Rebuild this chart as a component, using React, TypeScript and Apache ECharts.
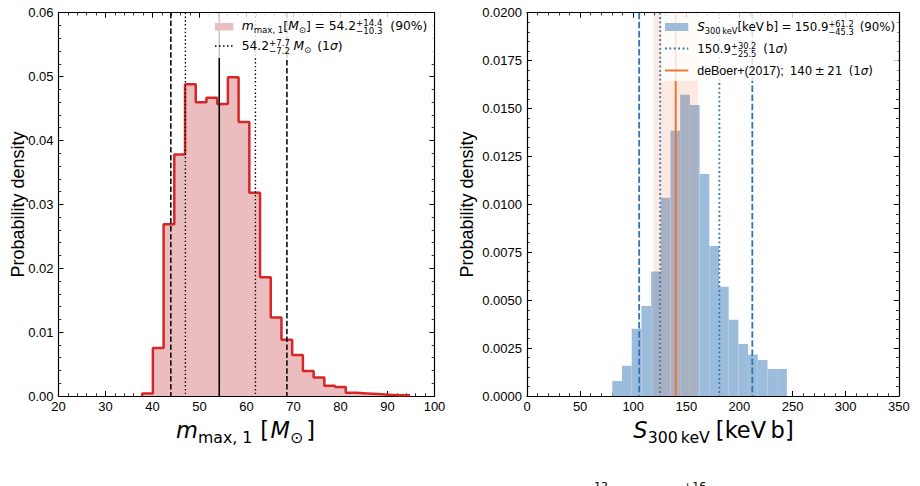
import React, { useEffect, useRef } from 'react';
import * as echarts from 'echarts';

// ---- m_max,1 posterior histogram (density per bin) ----
const mmaxBinStart = 37.8;
const mmaxBinWidth = 2.28;
const mmaxDensity = [
  0.0004, 0.0075, 0.0269, 0.0378, 0.0488, 0.046, 0.0467, 0.0457, 0.0499, 0.0429,
  0.0318, 0.0186, 0.0123, 0.0088, 0.0064, 0.0039, 0.0029, 0.0016, 0.0014, 0.0005,
  0.0004, 0.0003, 0.0002, 0.0001, 0.0001,
];
const mmaxMedian = 54.2;
const mmax90 = [10.3, 14.4]; // minus, plus
const mmax1s = [7.2, 7.7];

// ---- S_300keV posterior histogram ----
const sBinStart = 80.3;
const sBinWidth = 9.13;
const sDensity = [
  0.00078, 0.00158, 0.00351, 0.0047, 0.00649, 0.01035, 0.01384, 0.01572, 0.01518,
  0.01158, 0.00783, 0.0057, 0.00398, 0.00271, 0.00216, 0.00188, 0.00141, 0.00141,
];
const sMedian = 150.9;
const s90 = [45.3, 61.2];
const s1s = [25.5, 30.2];
const deBoerValue = 140;
const deBoerSigma = 21;

// ---- axis ranges ----
const mmaxAxis = { min: 20, max: 100, interval: 10 };
const densAxisL = { min: 0, max: 0.06, interval: 0.01 };
const sAxis = { min: 0, max: 350, interval: 50 };
const densAxisR = { min: 0, max: 0.02, interval: 0.0025 };

const MATH = "'DejaVu Sans'";
const TEXT = "'Liberation Sans', Arial, sans-serif";

const PINK = '#ebbdbf';
const RED = '#d62728';
const BLUE_FILL = '#9cbcdb';
const BLUE_LINE = '#2f74b3';
const ORANGE = '#e9753a';

let measureCtx: CanvasRenderingContext2D | null = null;
function measure(t: string, f: string) {
  if (!measureCtx) measureCtx = document.createElement('canvas').getContext('2d');
  measureCtx!.font = f;
  return measureCtx!.measureText(t).width;
}
function fontOf(fs: number, it?: boolean, fam?: string) {
  return `${it ? 'italic ' : ''}${fs}px ${fam ?? MATH}`;
}

type Piece = {
  t?: string;
  sup?: string;
  sub?: string;
  fs: number;
  it?: boolean;
  fam?: string;
  dy?: number;
  pl?: number;
  pr?: number;
  up?: number;
  down?: number;
};

function textEl(t: string, x: number, baseline: number, fs: number, f: string, z = 30) {
  return {
    type: 'text',
    x,
    y: baseline - 0.346 * fs,
    z,
    silent: true,
    style: { text: t, font: f, fill: '#000', textAlign: 'left', textVerticalAlign: 'middle' },
  };
}

function mathLine(pieces: Piece[], x: number, baseline: number, align: 'left' | 'center') {
  const widths = pieces.map((p) => {
    const f = fontOf(p.fs, p.it, p.fam);
    const w = p.t !== undefined ? measure(p.t, f) : Math.max(measure(p.sup!, f), measure(p.sub!, f));
    return w + (p.pl ?? 0) + (p.pr ?? 0);
  });
  const total = widths.reduce((a, b) => a + b, 0);
  let cx = align === 'center' ? x - total / 2 : x;
  const out: any[] = [];
  pieces.forEach((p, i) => {
    const f = fontOf(p.fs, p.it, p.fam);
    const px = cx + (p.pl ?? 0);
    if (p.t !== undefined) {
      out.push(textEl(p.t, px, baseline + (p.dy ?? 0), p.fs, f));
    } else {
      out.push(textEl(p.sup!, px, baseline - (p.up ?? 0), p.fs, f));
      out.push(textEl(p.sub!, px, baseline + (p.down ?? 0), p.fs, f));
    }
    cx += widths[i];
  });
  return out;
}

const fmt1 = (v: number) => v.toFixed(1);

function buildOption() {
  const L = 12.3; // left legend font size
  const Ls = L * 0.7;
  const R = 11.8; // right legend font size
  const Rs = R * 0.7;
  const T = 22.5; // axis title size
  const Ts = T * 0.7;

  const stack = (sup: string, sub: string, fs: number): Piece => ({ sup, sub, fs, up: 4.6, down: 3.4 });

  const legendLeftRow1: Piece[] = [
    { t: 'm', fs: L, it: true },
    { t: 'max, 1', fs: Ls, dy: 2.4 },
    { t: '[', fs: L },
    { t: 'M', fs: L, it: true },
    { t: '\u2299', fs: Ls, dy: 2.4 },
    { t: ']', fs: L },
    { t: '=', fs: L, pl: 3.8, pr: 3.8 },
    { t: fmt1(mmaxMedian), fs: L },
    stack('+' + fmt1(mmax90[1]), '\u2212' + fmt1(mmax90[0]), Ls),
    { t: '(90%)', fs: L, pl: 8 },
  ];
  const legendLeftRow2: Piece[] = [
    { t: fmt1(mmaxMedian), fs: L },
    stack('+' + fmt1(mmax1s[1]), '\u2212' + fmt1(mmax1s[0]), Ls),
    { t: 'M', fs: L, it: true, pl: 3.5 },
    { t: '\u2299', fs: Ls, dy: 2.4 },
    { t: '(1', fs: L, pl: 6 },
    { t: '\u03c3', fs: L, it: true },
    { t: ')', fs: L },
  ];
  const legendRightRow1: Piece[] = [
    { t: 'S', fs: R, it: true },
    { t: '300\u2009keV', fs: Rs, dy: 2.4 },
    { t: '[keV\u2009b]', fs: R },
    { t: '=', fs: R, pl: 3.3, pr: 3.3 },
    { t: fmt1(sMedian), fs: R },
    stack('+' + fmt1(s90[1]), '\u2212' + fmt1(s90[0]), Rs),
    { t: '(90%)', fs: R, pl: 6 },
  ];
  const legendRightRow2: Piece[] = [
    { t: fmt1(sMedian), fs: R },
    stack('+' + fmt1(s1s[1]), '\u2212' + fmt1(s1s[0]), Rs),
    { t: '(1', fs: R, pl: 7 },
    { t: '\u03c3', fs: R, it: true },
    { t: ')', fs: R },
  ];
  const legendRightRow3: Piece[] = [
    { t: 'deBoer+(2017);', fs: 12.4, fam: TEXT },
    { t: String(deBoerValue), fs: R, pl: 6 },
    { t: '\u00b1', fs: R, pl: 2.5, pr: 2.5 },
    { t: String(deBoerSigma), fs: R },
    { t: '(1', fs: R, pl: 6.5 },
    { t: '\u03c3', fs: R, it: true },
    { t: ')', fs: R },
  ];

  const titleLeft: Piece[] = [
    { t: 'm', fs: T, it: true },
    { t: 'max, 1', fs: Ts, dy: 4.5 },
    { t: '[', fs: T, pl: 8 },
    { t: 'M', fs: T, it: true, pl: 1.5 },
    { t: '\u2299', fs: Ts, dy: 4.5 },
    { t: ']', fs: T, pl: 3 },
  ];
  const titleRight: Piece[] = [
    { t: 'S', fs: T, it: true },
    { t: '300\u2009keV', fs: Ts, dy: 4.5 },
    { t: '[keV\u2009b]', fs: T, pl: 6 },
  ];

  const graphic: any[] = [
    // legend frames
    { type: 'rect', z: 20, silent: true, shape: { x: 205, y: 13, width: 229, height: 45 }, style: { fill: 'rgba(255,255,255,0.8)' } },
    { type: 'rect', z: 20, silent: true, shape: { x: 661.5, y: 13, width: 236.5, height: 68 }, style: { fill: 'rgba(255,255,255,0.8)' } },
    // legend handles (left)
    { type: 'rect', z: 25, silent: true, shape: { x: 215, y: 23, width: 18.3, height: 7.5 }, style: { fill: PINK } },
    { type: 'line', z: 25, silent: true, shape: { x1: 215, y1: 46, x2: 233.3, y2: 46 }, style: { stroke: '#000', lineWidth: 1.5, lineDash: [1.5, 2.5] } },
    // legend handles (right)
    { type: 'rect', z: 25, silent: true, shape: { x: 665, y: 23, width: 23.3, height: 8 }, style: { fill: BLUE_FILL } },
    { type: 'line', z: 25, silent: true, shape: { x1: 665, y1: 48.5, x2: 688.3, y2: 48.5 }, style: { stroke: BLUE_LINE, lineWidth: 1.8, lineDash: [1.8, 2.6] } },
    { type: 'line', z: 25, silent: true, shape: { x1: 665, y1: 70.5, x2: 688.3, y2: 70.5 }, style: { stroke: ORANGE, lineWidth: 2 } },
    ...mathLine(legendLeftRow1, 241.7, 30.5, 'left'),
    ...mathLine(legendLeftRow2, 241.7, 50.5, 'left'),
    ...mathLine(legendRightRow1, 697.3, 31.5, 'left'),
    ...mathLine(legendRightRow2, 697.3, 53, 'left'),
    ...mathLine(legendRightRow3, 697.3, 75, 'left'),
    // axis titles
    ...mathLine(titleLeft, 245.5, 438, 'center'),
    ...mathLine(titleRight, 713.5, 438, 'center'),
    {
      type: 'text', x: 18, y: 204.5, rotation: Math.PI / 2, z: 30, silent: true,
      style: { text: 'Probability density', font: `18px ${TEXT}`, fill: '#000', textAlign: 'center', textVerticalAlign: 'middle' },
    },
    {
      type: 'text', x: 467, y: 204.5, rotation: Math.PI / 2, z: 30, silent: true,
      style: { text: 'Probability density', font: `18px ${TEXT}`, fill: '#000', textAlign: 'center', textVerticalAlign: 'middle' },
    },
    // superscripts of the next row's labels, cut by the bottom edge
    { type: 'text', x: 594, y: 480.5, z: 30, silent: true, style: { text: '12', font: `11px ${MATH}`, fill: '#000', textAlign: 'left', textVerticalAlign: 'top' } },
    { type: 'text', x: 683, y: 480.5, z: 30, silent: true, style: { text: '+16', font: `11px ${MATH}`, fill: '#000', textAlign: 'left', textVerticalAlign: 'top' } },
  ];

  const axisBase = (r: { min: number; max: number; interval: number }, gridIndex: number, position: string, showLabel: boolean, digits?: number) => ({
    type: 'value',
    gridIndex,
    position,
    min: r.min,
    max: r.max,
    interval: r.interval,
    axisLine: { show: true, onZero: false, lineStyle: { color: '#000', width: 1.2 } },
    axisTick: { show: true, inside: true, length: 5, lineStyle: { color: '#000', width: 1 } },
    minorTick: { show: true, splitNumber: 5, length: 2.8, lineStyle: { color: '#000', width: 0.8 } },
    splitLine: { show: false },
    minorSplitLine: { show: false },
    axisLabel: {
      show: showLabel,
      color: '#000',
      fontSize: 13,
      fontFamily: TEXT,
      margin: position === 'left' ? 5 : 4,
      formatter: digits !== undefined ? (v: number) => v.toFixed(digits) : (v: number) => String(v),
    },
  });

  // step outline points for the m_max,1 histogram
  const mmaxStep: number[][] = [[mmaxBinStart, 0]];
  mmaxDensity.forEach((h, i) => mmaxStep.push([mmaxBinStart + i * mmaxBinWidth, h]));
  mmaxStep.push([mmaxBinStart + mmaxDensity.length * mmaxBinWidth, 0]);

  const mmaxLines = [
    { x: mmaxMedian - mmax90[0], kind: 'dashed' },
    { x: mmaxMedian - mmax1s[0], kind: 'dotted' },
    { x: mmaxMedian, kind: 'solid' },
    { x: mmaxMedian + mmax1s[1], kind: 'dotted' },
    { x: mmaxMedian + mmax90[1], kind: 'dashed' },
  ];
  const sLines = [
    { x: sMedian - s90[0], kind: 'dashed' },
    { x: sMedian - s1s[0], kind: 'dotted' },
    { x: sMedian + s1s[1], kind: 'dotted' },
    { x: sMedian + s90[1], kind: 'dashed' },
    { x: deBoerValue, kind: 'orange' },
  ];

  const vlineStyle: Record<string, any> = {
    dashed: { stroke: '#000', lineWidth: 1.5, lineDash: [5.5, 2.4] },
    dotted: { stroke: '#000', lineWidth: 1.4, lineDash: [1.4, 2.4] },
    solid: { stroke: '#000', lineWidth: 1.6 },
  };
  const vlineStyleR: Record<string, any> = {
    dashed: { stroke: BLUE_LINE, lineWidth: 1.8, lineDash: [6.5, 2.6] },
    dotted: { stroke: BLUE_LINE, lineWidth: 1.8, lineDash: [1.8, 2.6] },
    orange: { stroke: ORANGE, lineWidth: 2 },
  };

  const vlineSeries = (lines: { x: number; kind: string }[], xi: number, yi: number, yMax: number, styles: Record<string, any>) => ({
    type: 'custom',
    xAxisIndex: xi,
    yAxisIndex: yi,
    z: 5,
    silent: true,
    data: lines.map((l) => [l.x, 0]),
    encode: { x: 0, y: 1 },
    renderItem: (params: any, api: any) => {
      const x = api.value(0);
      const top = api.coord([x, yMax]);
      const bot = api.coord([x, 0]);
      return {
        type: 'line',
        shape: { x1: top[0], y1: top[1], x2: bot[0], y2: bot[1] },
        style: { ...styles[lines[params.dataIndex].kind], fill: null },
      };
    },
  });

  return {
    animation: false,
    backgroundColor: '#fff',
    grid: [
      { left: 58.5, top: 12.7, width: 376, height: 383.3 },
      { left: 527, top: 12.7, width: 371.8, height: 383.3 },
    ],
    xAxis: [
      axisBase(mmaxAxis, 0, 'bottom', true),
      axisBase(mmaxAxis, 0, 'top', false),
      axisBase(sAxis, 1, 'bottom', true),
      axisBase(sAxis, 1, 'top', false),
    ],
    yAxis: [
      axisBase(densAxisL, 0, 'left', true, 2),
      axisBase(densAxisL, 0, 'right', false),
      axisBase(densAxisR, 1, 'left', true, 4),
      axisBase(densAxisR, 1, 'right', false),
    ],
    series: [
      {
        type: 'line',
        xAxisIndex: 0,
        yAxisIndex: 0,
        step: 'end',
        symbol: 'none',
        silent: true,
        z: 2,
        data: mmaxStep,
        lineStyle: { color: RED, width: 2.5 },
        areaStyle: { color: PINK, opacity: 1 },
      },
      vlineSeries(mmaxLines, 0, 0, densAxisL.max, vlineStyle),
      {
        type: 'custom',
        xAxisIndex: 2,
        yAxisIndex: 2,
        z: 2,
        silent: true,
        data: sDensity.map((h, i) => [sBinStart + i * sBinWidth, sBinStart + (i + 1) * sBinWidth, h]),
        encode: { x: [0, 1], y: 2 },
        renderItem: (params: any, api: any) => {
          const p0 = api.coord([api.value(0), api.value(2)]);
          const p1 = api.coord([api.value(1), 0]);
          return {
            type: 'rect',
            shape: { x: p0[0], y: p0[1], width: p1[0] - p0[0], height: p1[1] - p0[1] },
            style: { fill: BLUE_FILL },
          };
        },
      },
      {
        type: 'custom',
        xAxisIndex: 2,
        yAxisIndex: 2,
        z: 3,
        silent: true,
        data: [[deBoerValue - deBoerSigma, deBoerValue + deBoerSigma]],
        encode: { x: [0, 1] },
        renderItem: (params: any, api: any) => {
          const p0 = api.coord([api.value(0), densAxisR.max]);
          const p1 = api.coord([api.value(1), 0]);
          return {
            type: 'rect',
            shape: { x: p0[0], y: p0[1], width: p1[0] - p0[0], height: p1[1] - p0[1] },
            style: { fill: 'rgba(233,117,58,0.15)' },
          };
        },
      },
      vlineSeries(sLines, 2, 2, densAxisR.max, vlineStyleR),
    ],
    graphic,
  };
}

export default function App() {
  const ref = useRef<HTMLDivElement>(null);
  useEffect(() => {
    const chart = echarts.init(ref.current!, undefined, { renderer: 'svg' });
    chart.setOption(buildOption() as any);
    return () => chart.dispose();
  }, []);
  return (
    <div
      ref={ref}
      style={{ position: 'fixed', left: 0, top: 0, width: 920, height: 486, background: '#fff' }}
    />
  );
}
